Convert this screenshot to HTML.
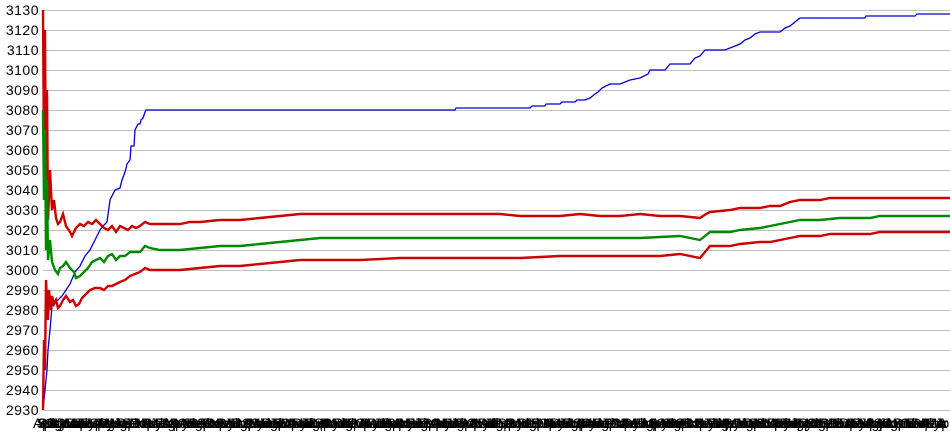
<!DOCTYPE html>
<html><head><meta charset="utf-8"><style>
html,body{margin:0;padding:0;background:#fff;width:950px;height:435px;overflow:hidden}
svg{display:block;font-family:"Liberation Sans",Arial,sans-serif}
</style></head><body>
<svg width="950" height="435" viewBox="0 0 950 435" xmlns="http://www.w3.org/2000/svg">
<g stroke="#c0c0c0" stroke-width="1">
<line x1="43" x2="950" y1="10.5" y2="10.5"/><line x1="43" x2="950" y1="30.5" y2="30.5"/><line x1="43" x2="950" y1="50.5" y2="50.5"/><line x1="43" x2="950" y1="70.5" y2="70.5"/><line x1="43" x2="950" y1="90.5" y2="90.5"/><line x1="43" x2="950" y1="110.5" y2="110.5"/><line x1="43" x2="950" y1="130.5" y2="130.5"/><line x1="43" x2="950" y1="150.5" y2="150.5"/><line x1="43" x2="950" y1="170.5" y2="170.5"/><line x1="43" x2="950" y1="190.5" y2="190.5"/><line x1="43" x2="950" y1="210.5" y2="210.5"/><line x1="43" x2="950" y1="230.5" y2="230.5"/><line x1="43" x2="950" y1="250.5" y2="250.5"/><line x1="43" x2="950" y1="270.5" y2="270.5"/><line x1="43" x2="950" y1="290.5" y2="290.5"/><line x1="43" x2="950" y1="310.5" y2="310.5"/><line x1="43" x2="950" y1="330.5" y2="330.5"/><line x1="43" x2="950" y1="350.5" y2="350.5"/><line x1="43" x2="950" y1="370.5" y2="370.5"/><line x1="43" x2="950" y1="390.5" y2="390.5"/><line x1="43" x2="950" y1="410.5" y2="410.5"/>
</g>
<g font-size="14" fill="#000" text-anchor="end" letter-spacing="0.5">
<text x="39" y="15">3130</text><text x="39" y="35">3120</text><text x="39" y="55">3110</text><text x="39" y="75">3100</text><text x="39" y="95">3090</text><text x="39" y="115">3080</text><text x="39" y="135">3070</text><text x="39" y="155">3060</text><text x="39" y="175">3050</text><text x="39" y="195">3040</text><text x="39" y="215">3030</text><text x="39" y="235">3020</text><text x="39" y="255">3010</text><text x="39" y="275">3000</text><text x="39" y="295">2990</text><text x="39" y="315">2980</text><text x="39" y="335">2970</text><text x="39" y="355">2960</text><text x="39" y="375">2950</text><text x="39" y="395">2940</text><text x="39" y="415">2930</text>
</g>
<g font-size="14" fill="#000">
<text x="33" y="428" textLength="915" lengthAdjust="spacing">ASepOctJulAugDecMarJunAprMaySepJulOctAugNovDecJanFebMarAprMayJunJulAugSepOctNovDecJanFebMarAprMayJunJulAugSepOctNovDecJanFebMarAprMayJunJulAugSepOctNovDecJanFebMarAprMayJunJulAugSepOctNovDecJanFebMarAprMayJunJulAugSepOctNovDecJanFebMarAprMayJunJulAugSepOctNovDecJanFebMarAprMayJunJulAugSepOctNovDecJanFebMarAprMayJunJulAugSepOctNovDecJanFebMarAprMayJunJulAugSepOctNovDecJanFebMarAprMayJunJulAugSepOctNovDecJanFebMarAprMayJunJulAugSepOctNovDecJanFebMarApr</text>
<text x="38" y="428" textLength="908" lengthAdjust="spacing">SepJulOctAugNovDecJanFebMarAprMayJunJulAugSepOctNovDecJanFebMarAprMayJunJulAugSepOctNovDecJanFebMarAprMayJunJulAugSepOctNovDecJanFebMarAprMayJunJulAugSepOctNovDecJanFebMarAprMayJunJulAugSepOctNovDecJanFebMarAprMayJunJulAugSepOctNovDecJanFebMarAprMayJunJulAugSepOctNovDecJanFebMarAprMayJunJulAugSepOctNovDecJanFebMarAprMayJunJulAugSepOctNovDecJanFebMarAprMayJunJulAugSepOctNovDecJanFebMarAprMayJunJulAugSepOctNovDecJanFebMarAprMayJun</text>
</g>
<g fill="none" stroke-linejoin="miter">
<polyline stroke="#0000cc" stroke-width="1.3" points="43,410 44,400 45,390 47,370 48,350 50,330 52,306 55,302 58,300 62,296 66,290 70,284 75,272 80,266 85,256 90,250 95,240 100,230 103,226 107,222 110,200 115,190 120,188 122,180 125,172 127,164 130,160 131,146 134,146 135,130 138,124 140,124 141,120 143,118 145,112 146,110 455,110 456,108 530,108 532,106 545,106 546,104 560,104 562,102 575,102 577,100 585,100 590,98 595,94 598,92 600,90 602,88 606,86 610,84 620,84 625,82 630,80 640,78 648,74 650,70 665,70 670,64 690,64 695,58 700,56 705,50 725,50 735,46 740,44 745,40 750,38 755,34 760,32 780,32 785,28 790,26 795,22 800,18 865,18 866,16 915,16 917,14 950,14"/>
<polyline stroke="#cc0000" stroke-width="2.4" points="43,10 44,160 45,30 46,200 47,90 48,220 50,170 52,210 54,200 56,218 58,224 60,222 63,214 66,226 70,232 72,236 76,228 80,224 84,226 88,222 92,224 96,220 100,224 104,228 108,230 112,226 116,232 120,226 124,228 128,230 132,226 136,228 140,226 145,222 150,224 160,224 170,224 180,224 190,222 200,222 220,220 240,220 260,218 280,216 300,214 320,214 340,214 360,214 380,214 400,214 420,214 440,214 460,214 480,214 500,214 520,216 540,216 560,216 580,214 600,216 620,216 640,214 660,216 680,216 700,218 706,214 710,212 730,210 740,208 760,208 770,206 780,206 790,202 800,200 820,200 830,198 950,198"/>
<polyline stroke="#008800" stroke-width="2.4" points="43,110 44,200 45,130 46,250 47,180 48,260 50,240 52,262 55,270 58,274 60,268 63,266 66,262 70,268 74,272 76,278 80,276 84,272 88,268 92,262 96,260 100,258 104,262 108,256 112,254 116,260 120,256 125,256 130,252 140,252 145,246 150,248 160,250 180,250 200,248 220,246 240,246 260,244 280,242 300,240 320,238 340,238 360,238 400,238 440,238 480,238 520,238 560,238 600,238 640,238 680,236 690,238 700,240 705,236 710,232 730,232 740,230 760,228 770,226 790,222 800,220 820,220 840,218 850,218 870,218 880,216 950,216"/>
<polyline stroke="#cc0000" stroke-width="2.4" points="43,410 44,340 45,370 46,280 47,300 48,320 49,290 50,300 51,310 52,296 54,304 56,300 58,308 60,306 63,300 66,296 70,302 73,300 76,306 79,304 82,298 86,294 90,290 95,288 100,288 104,290 108,286 112,286 116,284 120,282 125,280 130,276 135,274 140,272 145,268 150,270 160,270 180,270 200,268 220,266 240,266 260,264 280,262 300,260 320,260 340,260 360,260 400,258 440,258 480,258 520,258 560,256 600,256 640,256 660,256 680,254 690,256 700,258 705,252 710,246 730,246 740,244 760,242 770,242 790,238 800,236 820,236 830,234 850,234 870,234 880,232 950,232"/>
</g>
</svg>
</body></html>
